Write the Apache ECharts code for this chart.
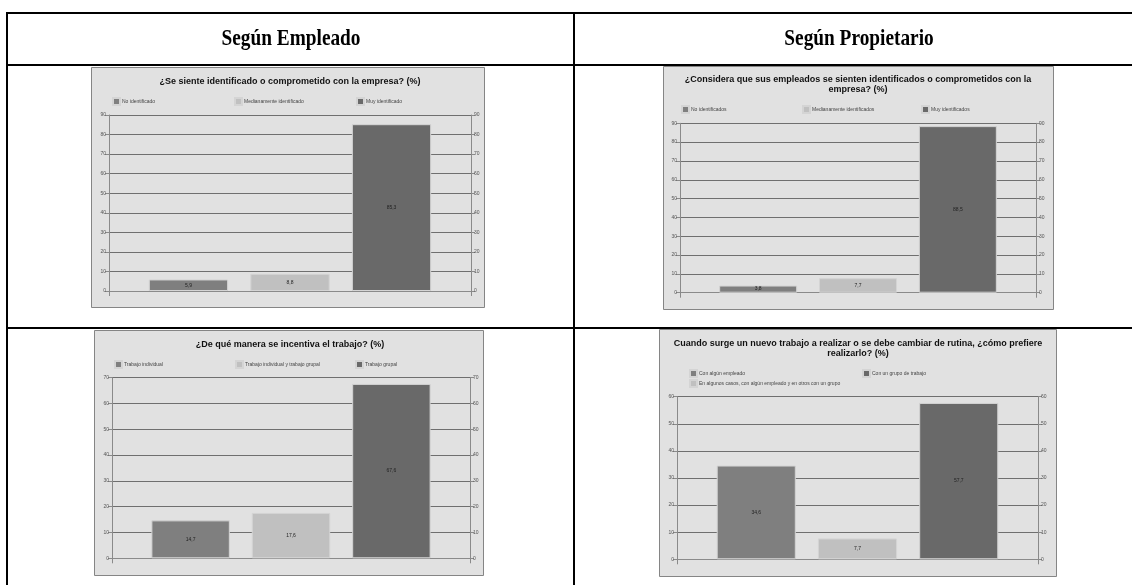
<!DOCTYPE html>
<html>
<head>
<meta charset="utf-8">
<title>Según Empleado / Según Propietario</title>
<script src="https://cdn.jsdelivr.net/npm/echarts@6/dist/echarts.min.js"></script>
<style>
  html, body { margin: 0; padding: 0; background: #ffffff; }
  #chart { width: 1132px; height: 585px; }
</style>
</head>
<body>
<div id="chart"></div>
<script>
// Column headings
const headings = ['Según Empleado', 'Según Propietario'];

// Panel 1 – employees: identification with the company
const p1Title = '¿Se siente identificado o comprometido con la empresa? (%)';
const p1Names = ['No identificado', 'Medianamente identificado', 'Muy identificado'];
const p1Values = [5.9, 8.8, 85.3];
const p1Max = 90;

// Panel 2 – owners: perceived identification of employees
const p2Title = '¿Considera que sus empleados se sienten identificados o comprometidos con la\nempresa? (%)';
const p2Names = ['No identificados', 'Medianamente identificados', 'Muy identificados'];
const p2Values = [3.8, 7.7, 88.5];
const p2Max = 90;

// Panel 3 – employees: how work is encouraged
const p3Title = '¿De qué manera se incentiva el trabajo? (%)';
const p3Names = ['Trabajo individual', 'Trabajo individual y trabajo grupal', 'Trabajo grupal'];
const p3Values = [14.7, 17.6, 67.6];
const p3Max = 70;

// Panel 4 – owners: preferred way of tackling new work
const p4Title = 'Cuando surge un nuevo trabajo a realizar o se debe cambiar de rutina, ¿cómo prefiere\nrealizarlo? (%)';
const p4Names = ['Con algún empleado', 'En algunos casos, con algún empleado y en otros con un grupo', 'Con un grupo de trabajo'];
const p4Values = [34.6, 7.7, 57.7];
const p4Max = 60;

const tickStep = 10;
const barColors = ['#7f7f7f', '#c0c0c0', '#696969'];

// Layout of each panel: outer box, title anchor, legend item anchors, plot area
const panels = [
  { title: p1Title, names: p1Names, values: p1Values, max: p1Max,
    box: [91, 67, 393, 240], titleX: 290, titleTop: 77,
    legend: [[112, 97], [234, 97], [356, 97]],
    grid: { left: 109, top: 115, width: 362, height: 176 } },
  { title: p2Title, names: p2Names, values: p2Values, max: p2Max,
    box: [663, 66, 390, 243], titleX: 858, titleTop: 75,
    legend: [[681, 105], [802, 105], [921, 105]],
    grid: { left: 680, top: 123.3, width: 356, height: 169.4 } },
  { title: p3Title, names: p3Names, values: p3Values, max: p3Max,
    box: [94, 330, 389, 245], titleX: 290, titleTop: 340,
    legend: [[114, 360], [235, 360], [355, 360]],
    grid: { left: 112, top: 377.7, width: 358, height: 180.6 } },
  { title: p4Title, names: p4Names, values: p4Values, max: p4Max,
    box: [659, 329, 397, 247], titleX: 858, titleTop: 339,
    legend: [[689, 369], [689, 379], [862, 369]],
    grid: { left: 677, top: 396.7, width: 361, height: 162.6 } }
];

const axisGray = '#8a8a8a';
const smallFont = 'Liberation Sans';

const titles = [], legends = [], grids = [], xAxes = [], yAxes = [], series = [], boxes = [];

panels.forEach((p, i) => {
  boxes.push({
    type: 'rect', z: 0,
    shape: { x: p.box[0] + 0.5, y: p.box[1] + 0.5, width: p.box[2], height: p.box[3] },
    style: { fill: '#e1e1e1', stroke: '#858585', lineWidth: 1 }
  });

  titles.push({
    text: p.title, left: p.titleX, top: p.titleTop, textAlign: 'center', padding: 0,
    textStyle: { fontFamily: smallFont, fontSize: 9, fontWeight: 'bold', color: '#111', lineHeight: 10 }
  });

  p.names.forEach((name, k) => {
    legends.push({
      data: [name], left: p.legend[k][0], top: p.legend[k][1], padding: 0,
      itemWidth: 7, itemHeight: 7, icon: 'rect', selectedMode: false,
      textStyle: { fontFamily: smallFont, fontSize: 5, color: '#444', padding: [0, 0, 0, -3] }
    });
  });

  grids.push(Object.assign({ containLabel: false }, p.grid));

  xAxes.push({
    gridIndex: i, type: 'category', data: [''], boundaryGap: true,
    axisLine: { show: true, lineStyle: { color: axisGray } },
    axisTick: { show: true, length: 5, lineStyle: { color: axisGray } },
    axisLabel: { show: false }, splitLine: { show: false }
  });

  ['left', 'right'].forEach((side) => {
    yAxes.push({
      gridIndex: i, type: 'value', position: side, min: 0, max: p.max, interval: tickStep,
      axisLine: { show: true, lineStyle: { color: axisGray } },
      axisTick: { show: true, length: 4, lineStyle: { color: axisGray } },
      axisLabel: { fontFamily: smallFont, fontSize: 5, color: '#555', margin: 3 },
      splitLine: { show: side === 'left', lineStyle: { color: '#6f6f6f', width: 1 } }
    });
  });

  p.names.forEach((name, k) => {
    series.push({
      type: 'bar', name: name, xAxisIndex: i, yAxisIndex: i * 2,
      data: [p.values[k]],
      barGap: '28%', barCategoryGap: '22%',
      itemStyle: { color: barColors[k], borderColor: '#d4d4d4', borderWidth: 1 },
      label: {
        show: true, position: 'inside', fontFamily: smallFont, fontSize: 5, color: '#222',
        formatter: (prm) => String(prm.value).replace('.', ',')
      },
      emphasis: { disabled: true },
      animation: false
    });
  });
});

// Table rules and column headings
const tableLines = [
  [6, 13, 1132, 13], [7, 12, 7, 585], [574, 12, 574, 585],
  [6, 65, 1132, 65], [6, 328, 1132, 328]
].map((l) => ({
  type: 'line', z: 10,
  shape: { x1: l[0], y1: l[1], x2: l[2], y2: l[3] },
  style: { stroke: '#000', lineWidth: 2 }
}));

const headingTexts = headings.map((h, i) => ({
  type: 'text', z: 10, x: i === 0 ? 291 : 859, y: 39, scaleX: 0.84,
  style: {
    text: h, font: 'bold 23px "Liberation Serif", "Times New Roman", serif',
    fill: '#000', align: 'center', verticalAlign: 'middle'
  }
}));

const chart = echarts.init(document.getElementById('chart'), null, { renderer: 'canvas' });
chart.setOption({
  backgroundColor: '#ffffff',
  animation: false,
  title: titles,
  legend: legends,
  grid: grids,
  xAxis: xAxes,
  yAxis: yAxes,
  series: series,
  graphic: { elements: boxes.concat(tableLines, headingTexts) }
});
</script>
</body>
</html>
